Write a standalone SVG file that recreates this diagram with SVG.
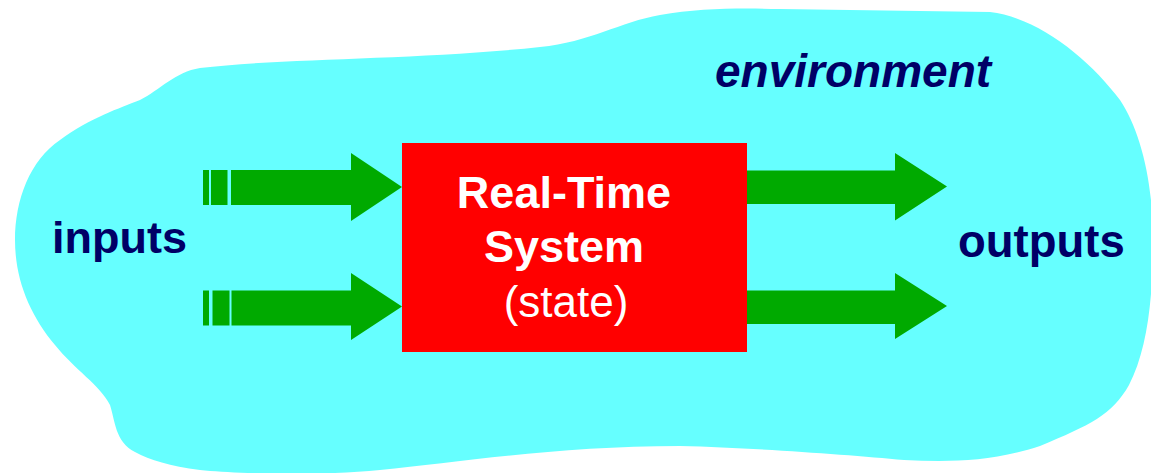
<svg xmlns="http://www.w3.org/2000/svg" width="1151" height="473" viewBox="0 0 1151 473">
<style>
.env{fill:#66FFFF;}
.arr{fill:#00AA00;}
.lbl{font-family:"Liberation Sans",Arial,sans-serif;font-weight:bold;fill:#000066;}
.box{fill:#FF0000;}
.bt{font-family:"Liberation Sans",Arial,sans-serif;fill:#FFFFFF;text-anchor:middle;}
</style>
<rect width="1151" height="473" fill="#FFFFFF"/>
<g id="environment">
<path class="env" d="M 200,68 C 280,58 420,60 540,47 C 590,42 620,22 660,15 C 700,8 740,8 780,9 L 990,12 C 1040,18 1090,60 1120,100 C 1140,130 1153,180 1153,240 C 1153,300 1147,350 1129,385 C 1112,415 1090,425 1040,446 C 990,462 950,462 904,460 C 850,455 760,448 680,446 C 560,446 460,462 380,470 C 320,476 240,474 200,470 C 170,466 150,460 135,452 C 115,442 115,420 110,405 C 100,385 75,370 55,345 C 30,315 15,280 15,240 C 15,200 30,160 60,140 C 90,118 120,108 140,100 C 160,90 175,72 200,68 Z"/>
<text class="lbl" x="715" y="87" font-size="46" font-style="italic">environment</text>
</g>
<g id="inputs">
<text class="lbl" x="52" y="253" font-size="45">inputs</text>
</g>
<g id="outputs">
<text class="lbl" x="958" y="257" font-size="45.5">outputs</text>
</g>
<g id="connectors">
<rect class="arr" x="203" y="170" width="6" height="35"/>
<rect class="arr" x="211" y="170" width="16.5" height="35"/>
<polygon class="arr" points="231,170 351,170 351,153 402,187 351,221 351,205 231,205"/>
<rect class="arr" x="203" y="290.5" width="6" height="35"/>
<rect class="arr" x="212.5" y="290.5" width="17" height="35"/>
<polygon class="arr" points="231.5,290.5 351,290.5 351,273 402,306.5 351,340 351,325.5 231.5,325.5"/>
<polygon class="arr" points="747,170.5 895,170.5 895,153 947,186.5 895,220.5 895,204 747,204"/>
<polygon class="arr" points="747,290.5 895,290.5 895,273 947,306 895,339 895,324 747,324"/>
</g>
<g id="rts">
<rect class="box" x="402" y="143" width="345" height="209"/>
<text class="bt" x="564" y="208" font-size="45" font-weight="bold">Real-Time</text>
<text class="bt" x="564" y="262" font-size="45" font-weight="bold">System</text>
<text class="bt" x="566" y="317" font-size="44">(state)</text>
</g>
</svg>
